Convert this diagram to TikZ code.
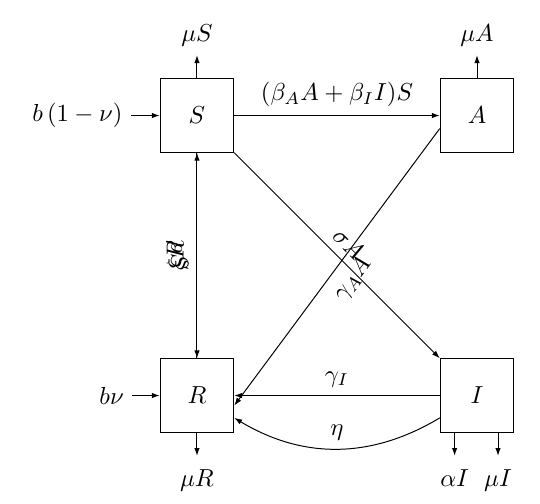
\documentclass[tikz,border=0pt]{standalone}
\usetikzlibrary{arrows.meta,calc}
\begin{document}
\begin{tikzpicture}[
  >={Latex[length=3.2pt,width=2.2pt]},
  comp/.style={draw,minimum size=1.05cm,inner sep=0pt},
  flow/.style={->},
  outlbl/.style={below,yshift=-0.07cm}
]
\useasboundingbox (-2.814,-1.536) rectangle (4.9,5.65);
\node[comp] (S) at (0,4) {$S$};
\node[comp] (A) at (4,4) {$A$};
\node[comp] (R) at (0,0) {$R$};
\node[comp] (I) at (4,0) {$I$};

% inflows
\coordinate (inS) at ($(S.west)+(-0.41,0)$);
\coordinate (inR) at ($(R.west)+(-0.39,0)$);
\node[left] (bnu1) at (inS) {$b\,(1-\nu)$};
\node[left] (bnu) at (inR) {$b\nu$};
\draw[flow] (inS) -- (S.west);
\draw[flow] (inR) -- (R.west);

% outflows
\coordinate (oS) at ($(S.north)+(0,0.33)$);
\coordinate (oA) at ($(A.north)+(0,0.33)$);
\coordinate (oR) at ($(R.south)+(0,-0.33)$);
\coordinate (oI1) at ($(I.south)+(-0.32,-0.33)$);
\coordinate (oI2) at ($(I.south)+(0.30,-0.33)$);
\draw[flow] (S.north) -- (oS) node[above] (muS) {$\mu S$};
\draw[flow] (A.north) -- (oA) node[above] (muA) {$\mu A$};
\draw[flow] (R.south) -- (oR) node[outlbl] (muR) {$\mu R$};
\draw[flow] (I.south -| oI1) -- (oI1) node[outlbl] (aI) {$\alpha I$};
\draw[flow] (I.south -| oI2) -- (oI2) node[outlbl] (muI) {$\mu I$};

% transitions
\draw[flow] (S) -- node[above] {$(\beta_A A+\beta_I I)S$} (A);
\draw[flow] (S) -- node[midway,below,sloped] {$\rho S$} (R);
\draw[flow] (R) -- node[midway,above,sloped] {$\xi R$} (S);
\draw[flow] (S.south east) -- node[midway,above,sloped] {$\sigma A$} (I.north west);
\draw[flow] ($(A.west)!0.35!(A.south west)$) -- node[midway,below,sloped] {$\gamma_A A$} ($(R.east)!0.27!(R.south east)$);
\draw[flow] (I) -- node[above] {$\gamma_I$} (R);
\draw[flow] (I) to[bend left=31] node[above] {$\eta$} (R);
\end{tikzpicture}
\end{document}
